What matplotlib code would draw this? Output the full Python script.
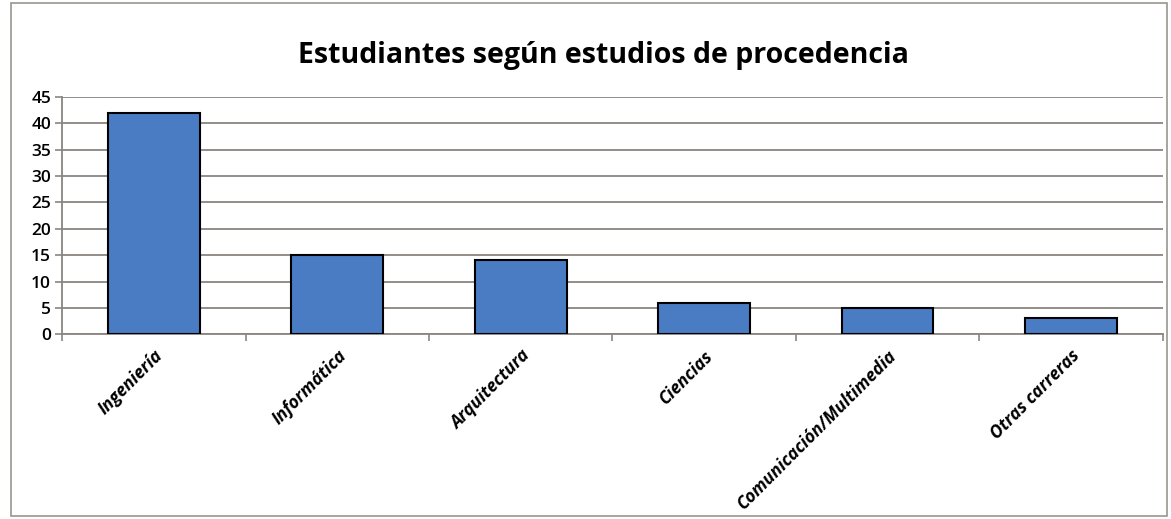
import matplotlib.pyplot as plt
from matplotlib.patches import Rectangle
import numpy as np

categories = ['Ingeniería', 'Informática', 'Arquitectura', 'Ciencias',
              'Comunicación/Multimedia', 'Otras carreras']
values = [42, 15, 14, 6, 5, 3]
yticks = [0, 5, 10, 15, 20, 25, 30, 35, 40, 45]

plt.rcParams['font.family'] = ['Open Sans', 'DejaVu Sans']

fig = plt.figure(figsize=(11.71, 5.19), dpi=100)
ax = fig.add_axes([0.053, 0.356, 0.940, 0.457])

x = np.arange(len(categories))
ax.bar(x, values, width=0.5, color='#4a7cc4', edgecolor='black', linewidth=1.5, zorder=3)

ax.set_xlim(-0.5, len(categories) - 0.5)
ax.set_ylim(0, 45)
ax.set_yticks(yticks)
ax.yaxis.grid(True, color='#8a8580', linewidth=1.3, zorder=0)
ax.tick_params(axis='y', labelsize=12.5, length=5, color='#8a8580', width=1.2, pad=3)
for lbl in ax.get_yticklabels():
    lbl.set_fontweight('semibold')

ax.set_xticks(x)
ax.set_xticklabels(categories, rotation=45, ha='right', rotation_mode='anchor',
                   fontsize=12.5, fontweight='bold', fontstyle='italic')
ax.tick_params(axis='x', length=0, pad=9)
ax.set_xticks(np.arange(len(categories) + 1) - 0.5, minor=True)
ax.tick_params(axis='x', which='minor', length=5, color='#8a8580', width=1.2)

for side in ['top', 'right']:
    ax.spines[side].set_visible(False)
ax.spines['left'].set_color('#8a8580')
ax.spines['bottom'].set_color('#8a8580')
ax.spines['left'].set_linewidth(1.3)
ax.spines['bottom'].set_linewidth(1.3)

fig.text(0.515, 0.893, 'Estudiantes según estudios de procedencia',
         ha='center', va='center', fontsize=20.5, fontweight='bold')

fig.patches.append(Rectangle((0.009, 0.005), 0.988, 0.99, transform=fig.transFigure,
                             fill=False, edgecolor='#9a9590', linewidth=1.2))

fig.savefig('out.png', dpi=100)
